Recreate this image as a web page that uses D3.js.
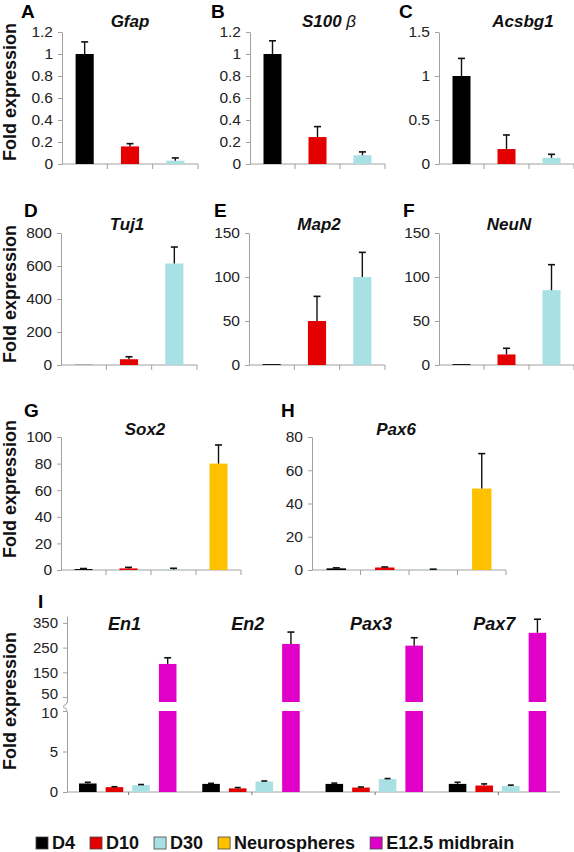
<!DOCTYPE html>
<html><head><meta charset="utf-8">
<script src="https://cdn.jsdelivr.net/npm/d3@7"></script>
<style>
body{margin:0;background:#fff;}
svg{display:block;font-family:"Liberation Sans", Arial, sans-serif;}
</style></head><body>
<svg id="c" width="574" height="852"></svg>
<script>
// ---------------- DATA ----------------
const seriesNames = ["D4", "D10", "D30", "Neurospheres", "E12.5 midbrain"];
const catsRow12 = ["D4", "D10", "D30"];
const catsRow3 = ["D4", "D10", "D30", "Neurospheres"];
const catsI = ["D4", "D10", "D30", "E12.5 midbrain"];
const genesI = ["En1", "En2", "Pax3", "Pax7"];

const gfapVals = [1.0, 0.16, 0.03],   gfapErr = [0.11, 0.025, 0.025];
const s100bVals = [1.0, 0.245, 0.08], s100bErr = [0.12, 0.095, 0.03];
const acsbg1Vals = [1.0, 0.17, 0.07], acsbg1Err = [0.2, 0.16, 0.04];
const tuj1Vals = [1, 35, 615],        tuj1Err = [0, 15, 100];
const map2Vals = [1, 50, 100],        map2Err = [0, 28, 28];
const neunVals = [1, 12, 85],         neunErr = [0, 7, 29];
const sox2Vals = [0.7, 1.2, 0.4, 80], sox2Err = [0.4, 0.8, 0.9, 14];
const pax6Vals = [1.0, 1.5, 0.3, 49], pax6Err = [0.3, 0.3, 0.2, 21];
const en1Vals = [1.05, 0.6, 0.85, 184], en1Err = [0.15, 0.05, 0.07, 25];
const en2Vals = [1.0, 0.45, 1.3, 265],  en2Err = [0.07, 0.1, 0.06, 48];
const pax3Vals = [1.0, 0.55, 1.6, 258], pax3Err = [0.1, 0.07, 0.06, 32];
const pax7Vals = [1.0, 0.8, 0.75, 310], pax7Err = [0.2, 0.2, 0.1, 55];
const valsI = [en1Vals, en2Vals, pax3Vals, pax7Vals];
const errsI = [en1Err, en2Err, pax3Err, pax7Err];

const ticksA = [0, 0.2, 0.4, 0.6, 0.8, 1, 1.2];
const ticksC = [0, 0.5, 1, 1.5];
const ticksD = [0, 200, 400, 600, 800];
const ticksEF = [0, 50, 100, 150];
const ticksG = [0, 20, 40, 60, 80, 100];
const ticksH = [0, 20, 40, 60, 80];
const ticksIlow = [0, 5, 10];
const ticksIup = [50, 150, 250, 350];

// ---------------- STYLE ----------------
const colors = {"D4": "#000000", "D10": "#e40000", "D30": "#a8e0e4", "Neurospheres": "#ffc000", "E12.5 midbrain": "#e000c8"};
const AXIS = "#a0a0a0";
const svg = d3.select("#c");

function styleAxis(g, size) {
  g.select(".domain").attr("stroke", AXIS);
  g.selectAll(".tick line").attr("stroke", AXIS);
  g.selectAll(".tick text").attr("fill", "#222").attr("font-size", size || 15.5).attr("font-family", "Liberation Sans, Arial, sans-serif");
}

function yTitle(cy) {
  svg.append("text").attr("transform", `translate(16,${cy}) rotate(-90)`)
    .attr("text-anchor", "middle").attr("font-weight", "bold").attr("font-size", 18).attr("fill", "#111")
    .text("Fold expression");
}

function letter(t, x, y) {
  svg.append("text").attr("x", x).attr("y", y).attr("font-weight", "bold").attr("font-size", 19).attr("fill", "#000").text(t);
}

function title(t, x, y, size) {
  const el = svg.append("text").attr("x", x).attr("y", y).attr("text-anchor", "middle")
    .attr("font-weight", "bold").attr("font-style", "italic").attr("font-size", size || 17).attr("fill", "#111");
  if (t.includes("β")) {
    el.append("tspan").text("S100 ");
    el.append("tspan").attr("font-weight", "normal").text("β");
  } else el.text(t);
}

function errBar(g, x, y0, y1, cap) {
  g.append("line").attr("x1", x).attr("x2", x).attr("y1", y0).attr("y2", y1).attr("stroke", "#111").attr("stroke-width", 1.4);
  g.append("line").attr("x1", x - cap / 2).attr("x2", x + cap / 2).attr("y1", y1).attr("y2", y1).attr("stroke", "#111").attr("stroke-width", 1.6);
}

function panel(o) {
  const x = d3.scaleBand().domain(o.cats).range([o.x0, o.x1]).paddingInner(0.6).paddingOuter(0.3);
  const y = d3.scaleLinear().domain([0, o.yMax]).range([o.yBot, o.yTop]);
  const g = svg.append("g");
  g.append("g").attr("transform", `translate(${o.x0},0)`)
    .call(d3.axisLeft(y).tickValues(o.ticks).tickSize(4).tickSizeOuter(0).tickPadding(5).tickFormat(d => String(d)))
    .call(styleAxis);
  g.append("line").attr("x1", o.x0).attr("x2", o.x1).attr("y1", o.yBot).attr("y2", o.yBot).attr("stroke", AXIS);
  d3.range(1, o.cats.length + 1).forEach(i => {
    const xx = o.x0 + i * x.step();
    g.append("line").attr("x1", xx).attr("x2", xx).attr("y1", o.yBot).attr("y2", o.yBot + 5).attr("stroke", AXIS);
  });
  const data = o.cats.map((c, i) => ({c, v: o.vals[i], e: o.errs[i]}));
  g.selectAll("rect.bar").data(data).join("rect").attr("class", "bar")
    .attr("x", d => x(d.c)).attr("width", x.bandwidth())
    .attr("y", d => y(d.v)).attr("height", d => Math.max(0, o.yBot - y(d.v)))
    .attr("fill", d => colors[d.c]);
  data.forEach(d => { if (d.e > 0) errBar(g, x(d.c) + x.bandwidth() / 2, y(d.v), y(d.v + d.e), 7); });
  letter(o.letter, o.lx, o.ly);
  title(o.title, o.tx, o.ty);
}

// Row 1
panel({letter: "A", title: "Gfap", cats: catsRow12, vals: gfapVals, errs: gfapErr, ticks: ticksA, yMax: 1.2,
  x0: 62, x1: 198, yTop: 32, yBot: 164, lx: 21, ly: 18, tx: 130, ty: 27});
panel({letter: "B", title: "S100 β", cats: catsRow12, vals: s100bVals, errs: s100bErr, ticks: ticksA, yMax: 1.2,
  x0: 250, x1: 385, yTop: 32, yBot: 164, lx: 211, ly: 18, tx: 329, ty: 27});
panel({letter: "C", title: "Acsbg1", cats: catsRow12, vals: acsbg1Vals, errs: acsbg1Err, ticks: ticksC, yMax: 1.5,
  x0: 439, x1: 574, yTop: 32, yBot: 164, lx: 399, ly: 18, tx: 523, ty: 27});
yTitle(92);
// Row 2
panel({letter: "D", title: "Tuj1", cats: catsRow12, vals: tuj1Vals, errs: tuj1Err, ticks: ticksD, yMax: 800,
  x0: 61, x1: 197, yTop: 233, yBot: 365, lx: 24, ly: 217, tx: 127, ty: 230});
panel({letter: "E", title: "Map2", cats: catsRow12, vals: map2Vals, errs: map2Err, ticks: ticksEF, yMax: 150,
  x0: 249, x1: 385, yTop: 233, yBot: 365, lx: 214, ly: 217, tx: 319, ty: 230});
panel({letter: "F", title: "NeuN", cats: catsRow12, vals: neunVals, errs: neunErr, ticks: ticksEF, yMax: 150,
  x0: 439, x1: 574, yTop: 233, yBot: 365, lx: 403, ly: 217, tx: 509, ty: 230});
yTitle(294);
// Row 3
panel({letter: "G", title: "Sox2", cats: catsRow3, vals: sox2Vals, errs: sox2Err, ticks: ticksG, yMax: 100,
  x0: 61, x1: 241, yTop: 437, yBot: 570, lx: 24, ly: 417, tx: 145, ty: 435});
panel({letter: "H", title: "Pax6", cats: catsRow3, vals: pax6Vals, errs: pax6Err, ticks: ticksH, yMax: 80,
  x0: 312, x1: 506, yTop: 437, yBot: 570, lx: 281, ly: 417, tx: 396, ty: 435});
yTitle(489);

// Row 4 (panel I, broken axis)
(function () {
  const X0 = 67, X1 = 560, YB = 792;
  const xg = d3.scaleBand().domain(genesI).range([X0, X1]).padding(0);
  const xi = d3.scaleBand().domain(catsI).range([7.5, 114]).paddingInner(0.34).paddingOuter(0.17);
  const yLow = d3.scaleLinear().domain([0, 10]).range([YB, 711]);
  const yUp = d3.scaleLinear().domain([30, 378]).range([702, 616]);
  const g = svg.append("g");
  const low = g.append("g").attr("transform", `translate(${X0},0)`)
    .call(d3.axisLeft(yLow).tickValues(ticksIlow).tickSize(4).tickSizeOuter(0).tickPadding(5)).call(styleAxis, 15);
  const up = g.append("g").attr("transform", `translate(${X0},0)`)
    .call(d3.axisLeft(yUp).tickValues(ticksIup).tickSize(4).tickSizeOuter(0).tickPadding(5)).call(styleAxis, 15);
  // nudge the two labels next to the break apart a little
  up.selectAll(".tick text").filter(d => d === 50).attr("dy", "0.1em");
  low.selectAll(".tick text").filter(d => d === 10).attr("dy", "0.45em");
  // break hooks
  g.append("path").attr("d", `M${X0},${yUp.range()[0]} q0,3 -4,4`).attr("fill", "none").attr("stroke", AXIS);
  g.append("path").attr("d", `M${X0},${yLow.range()[1]} q0,-3 -4,-4`).attr("fill", "none").attr("stroke", AXIS);
  g.append("line").attr("x1", X0).attr("x2", X1).attr("y1", YB).attr("y2", YB).attr("stroke", AXIS);
  genesI.forEach((gn, gi) => {
    const cx = xg(gn) + xg.bandwidth() / 2;
    g.append("line").attr("x1", cx).attr("x2", cx).attr("y1", YB).attr("y2", YB + 3).attr("stroke", "#777");
    catsI.forEach((c, ci) => {
      const v = valsI[gi][ci], e = errsI[gi][ci];
      const bx = xg(gn) + xi(c), bw = xi.bandwidth();
      if (v <= 10) {
        g.append("rect").attr("x", bx).attr("width", bw).attr("y", yLow(v)).attr("height", YB - yLow(v)).attr("fill", colors[c]);
        errBar(g, bx + bw / 2, yLow(v), yLow(v + e), 6);
      } else {
        g.append("rect").attr("x", bx).attr("width", bw).attr("y", yLow(10)).attr("height", YB - yLow(10)).attr("fill", colors[c]);
        g.append("rect").attr("x", bx).attr("width", bw).attr("y", yUp(v)).attr("height", yUp.range()[0] - yUp(v)).attr("fill", colors[c]);
        errBar(g, bx + bw / 2, yUp(v), yUp(v + e), 7);
      }
    });
    title(gn, cx - 4, 630, 18);
  });
  letter("I", 38, 608);
  yTitle(701);
})();

// Legend
(function () {
  let x = 36;
  const y = 837;
  seriesNames.forEach(s => {
    svg.append("rect").attr("x", x).attr("y", y).attr("width", 12).attr("height", 12)
      .attr("fill", colors[s]).attr("stroke", "#444").attr("stroke-width", 0.8);
    const t = svg.append("text").attr("x", x + 16).attr("y", y + 11.5).attr("font-weight", "bold")
      .attr("font-size", 18).attr("fill", "#111").text(s);
    x += 16 + t.node().getComputedTextLength() + 15;
  });
})();
</script>
</body></html>
